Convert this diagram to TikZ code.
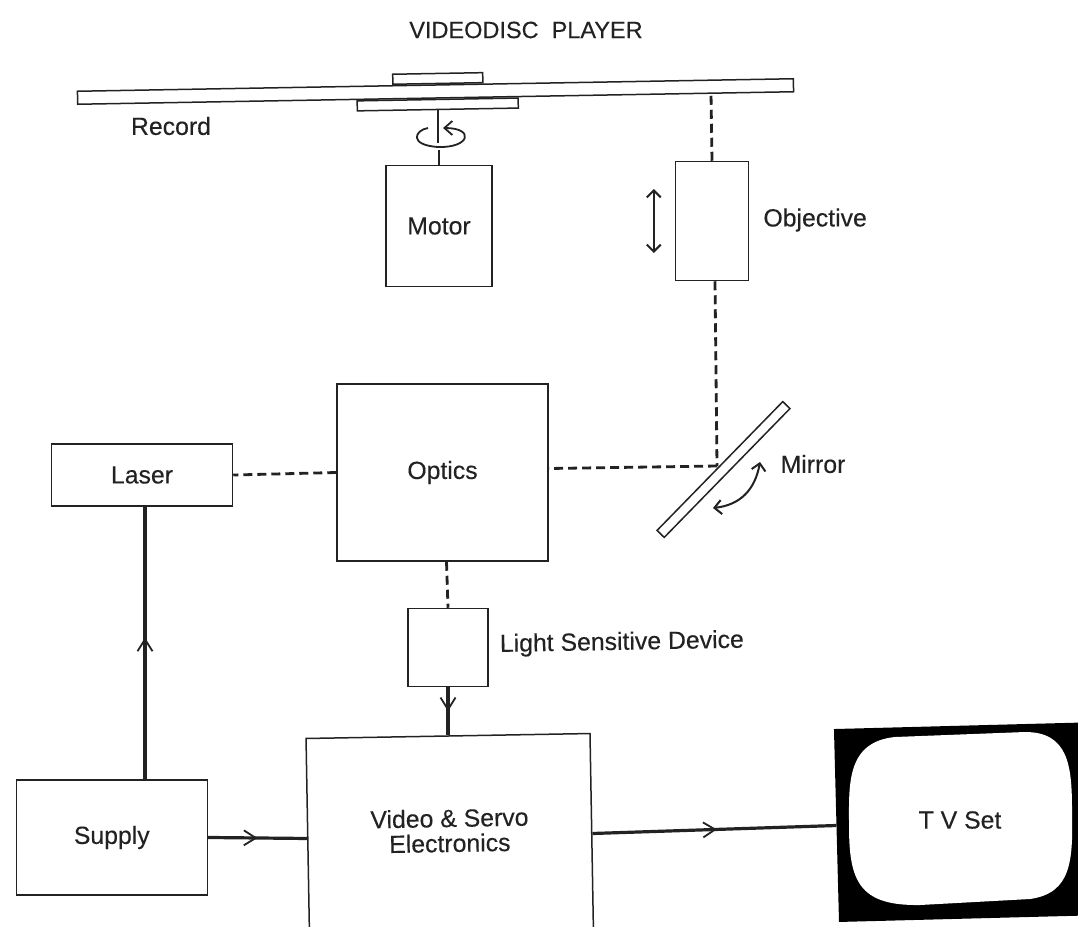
\documentclass[tikz,border=0pt]{standalone}
\usepackage{fontspec}
\setmainfont{Liberation Sans}[FakeBold=0.25]
\usepackage{xcolor}
\usepackage{tikz}
\usetikzlibrary{arrows.meta, positioning, decorations.markings}
\definecolor{ink}{HTML}{222222}
\tikzset{
    block/.style={rectangle, draw=ink, fill=white, line width=1.5pt, align=center, font=\fontsize{24.8}{25}\selectfont, text=ink},
    label/.style={inner sep=0pt, align=center, font=\fontsize{24.8}{25}\selectfont, text=ink},
    beam/.style={draw=ink, line width=2.8pt, dash pattern=on 9pt off 5pt},
    wire/.style={draw=ink, line width=3.2pt},
    thinline/.style={draw=ink, line width=1.5pt},
    motion/.style={draw=ink, line width=2pt, {Straight Barb[length=7pt,width=14pt]}-{Straight Barb[length=7pt,width=14pt]}},
    midarrow/.style={decoration={markings, mark=at position #1 with {\arrow{Straight Barb[length=12pt,width=15pt,line width=1.8pt]}}}, postaction={decorate}}
}
\begin{document}
\begin{tikzpicture}[x=1pt, y=-1pt]
    \useasboundingbox (0,0) rectangle (1078,926);
    \clip (0,0) rectangle (1078,926);
    \fill[white] (0,0) rectangle (1078,926);

    \node [block, minimum width=716pt, minimum height=13pt, inner sep=0pt, rotate=1] (record) at (435.5,91.5) {};
    \node [block, minimum width=90pt, minimum height=10pt, inner sep=0pt, rotate=1, above=0pt of record, xshift=2.5pt] (tophub) {};
    \node [block, minimum width=161pt, minimum height=10pt, inner sep=0pt, rotate=1, below=0pt of record, xshift=2pt] (lowhub) {};
    \node [block, minimum width=211pt, minimum height=177pt] (optics) at (442.5,472.5) {Optics};
    \node [block, minimum width=106pt, minimum height=121pt, above=96pt of optics, xshift=-3.5pt] (motor) {Motor};
    \node [block, minimum width=73pt, minimum height=119pt, right=182pt of motor, yshift=5pt] (objective) {};
    \node [block, minimum width=181pt, minimum height=62pt, left=103pt of optics, yshift=-2.5pt] (laser) {Laser};
    \node [block, minimum width=80pt, minimum height=78pt, below=46pt of optics, xshift=5.5pt] (device) {};
    \node [block, minimum width=284pt, minimum height=200pt, rotate=1, below=48pt of device] (electronics) {Video \& Servo\\Electronics\\[-14pt]\mbox{}};
    \node [block, minimum width=191pt, minimum height=115pt, left=99pt of electronics, yshift=1pt] (supply) {Supply};
    \node [block, minimum width=180pt, minimum height=10pt, inner sep=0pt, rotate=45.7] (mirror) at (723.5,469.5) {};
    \node [rectangle, fill=black, minimum width=256pt, minimum height=193pt, rotate=1.5, right=244pt of electronics, yshift=8pt] (tv) {};
    \fill[white] (849,825) .. controls (849,785) and (846,742) .. (895,737) -- (1025,732) .. controls (1068,732) and (1072,765) .. (1072,810) .. controls (1073,860) and (1072,893) .. (1030,899) -- (920,905) .. controls (858,906) and (849,880) .. (849,825);

    \node [label, font=\fontsize{23.5}{25}\selectfont] (title) at (526,30) {VIDEODISC\ \ PLAYER};
    \node [label] (recordlabel) at (171,126) {Record};
    \node [label, right=14pt of objective, yshift=1pt] (objectivelabel) {Objective};
    \node [label] (mirrorlabel) at (813,464) {Mirror};
    \node [label, rotate=1, right=11pt of device, yshift=2pt] (devicelabel) {Light Sensitive Device};
    \node [label] (tvlabel) at (960,820) {T V Set};

    \coordinate (hit) at (717,466);
    \coordinate (spot) at (711,93);
    \coordinate (spinstart) at (428,128);
    \coordinate (spintip) at (443,128);
    \coordinate (swingup) at (760,462);
    \coordinate (swingdown) at (713,508);

    \draw [beam] (objective.north) -- (spot);
    \draw [beam] ([xshift=3pt]objective.south) -- (hit);
    \draw [beam] (hit) -- ([yshift=4pt]optics.east);
    \draw [beam] (optics.west) -- (laser.east);
    \draw [beam] ([xshift=4pt]optics.south) -- (device.north);

    \draw [wire, midarrow=0.52] ([xshift=3pt]laser.south |- supply.north) -- ([xshift=3pt]laser.south);
    \draw [wire, midarrow=0.5] (supply.east) -- (electronics.west);
    \draw [wire, midarrow=0.5] (device.south) -- (electronics.north);
    \draw [wire, midarrow=0.51] (electronics.east) -- (tv.west);

    \draw [thinline] (lowhub.south) -- ([yshift=-33pt]lowhub.south);
    \draw [thinline] ([yshift=15pt]motor.north) -- (motor.north);
    \draw [thinline, line width=1.8pt, -{Straight Barb[length=8pt,width=14pt]}] (spinstart) .. controls (415,130) and (408,145) .. (438,147) .. controls (470,148) and (475,128) .. (spintip);
    \draw [motion] ([shift={(-21pt,32pt)}]objective.west) -- ([shift={(-21pt,-32pt)}]objective.west);
    \draw [motion] (swingup) .. controls (755,490) and (740,505) .. (swingdown);
\end{tikzpicture}
\end{document}
